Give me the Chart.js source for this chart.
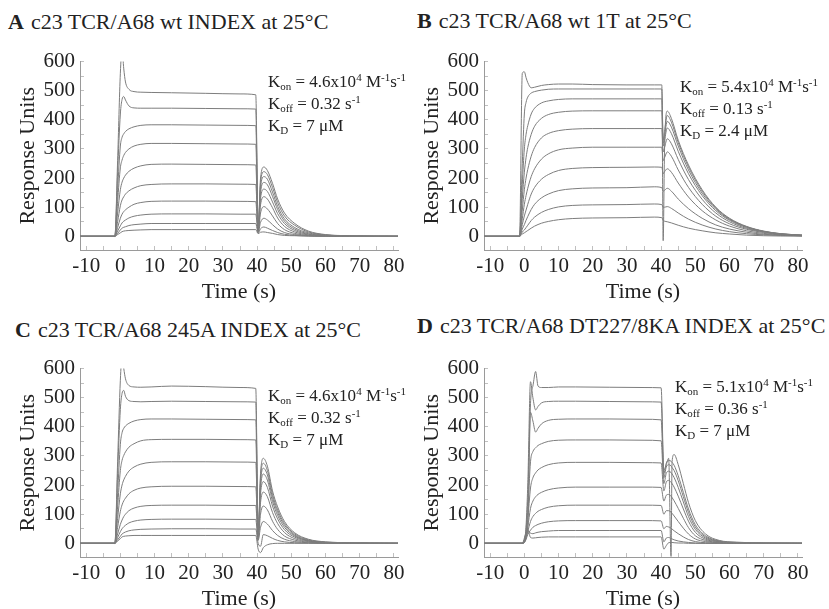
<!DOCTYPE html>
<html>
<head>
<meta charset="utf-8">
<script src="https://cdn.jsdelivr.net/npm/chart.js@4.4.1/dist/chart.umd.min.js"></script>
<style>
  body { margin: 0; background: #fff; width: 829px; height: 609px; position: relative; overflow: hidden;
         font-family: "Liberation Serif", "Times New Roman", serif; color: #222; }
  .panel { position: absolute; width: 415px; height: 270px; }
  .title { position: absolute; font-size: 22px; line-height: 1; white-space: nowrap; }
  .title b { margin-right: 7px; }
  .kin { position: absolute; font-size: 17px; line-height: 22px; white-space: nowrap; }
  sub, sup { font-size: 11px; line-height: 0; }
  sub { vertical-align: -3px; }
  sup { vertical-align: 6px; }
</style>
</head>
<body>
<div class="title" style="left:8px;top:11px"><b>A</b>c23 TCR/A68 wt INDEX at 25°C</div>
<div class="title" style="left:417px;top:10px"><b>B</b>c23 TCR/A68 wt 1T at 25°C</div>
<div class="title" style="left:15px;top:319px"><b>C</b>c23 TCR/A68 245A INDEX at 25°C</div>
<div class="title" style="left:417px;top:315px"><b>D</b>c23 TCR/A68 DT227/8KA INDEX at 25°C</div>

<canvas class="panel" id="chartA" width="415" height="270" style="left:0;top:40px"></canvas>
<canvas class="panel" id="chartB" width="415" height="270" style="left:404px;top:40px"></canvas>
<canvas class="panel" id="chartC" width="415" height="270" style="left:0;top:347px"></canvas>
<canvas class="panel" id="chartD" width="415" height="270" style="left:404px;top:347px"></canvas>

<div class="kin" style="left:268px;top:71px">K<sub>on</sub> = 4.6x10<sup>4</sup> M<sup>-1</sup>s<sup>-1</sup><br>K<sub>off</sub> = 0.32 s<sup>-1</sup><br>K<sub>D</sub> = 7 μM</div>
<div class="kin" style="left:680px;top:76px">K<sub>on</sub> = 5.4x10<sup>4</sup> M<sup>-1</sup>s<sup>-1</sup><br>K<sub>off</sub> = 0.13 s<sup>-1</sup><br>K<sub>D</sub> = 2.4 μM</div>
<div class="kin" style="left:268px;top:385px">K<sub>on</sub> = 4.6x10<sup>4</sup> M<sup>-1</sup>s<sup>-1</sup><br>K<sub>off</sub> = 0.32 s<sup>-1</sup><br>K<sub>D</sub> = 7 μM</div>
<div class="kin" style="left:675px;top:376px">K<sub>on</sub> = 5.1x10<sup>4</sup> M<sup>-1</sup>s<sup>-1</sup><br>K<sub>off</sub> = 0.36 s<sup>-1</sup><br>K<sub>D</sub> = 7 μM</div>

<script>
// axis ticks
const xTicks = [-10, 0, 10, 20, 30, 40, 50, 60, 70, 80];
const xTickMarks = [-10, -5, 0, 5, 10, 15, 20, 25, 30, 35, 40, 45, 50, 55, 60, 65, 70, 75, 80];
const yTicks = [0, 100, 200, 300, 400, 500, 600];
const yTickMarks = [0, 50, 100, 150, 200, 250, 300, 350, 400, 450, 500, 550, 600];

// A: wt INDEX
const timeA = [-11.8, -1.6, -0.8, 0, 0.5, 1, 1.5, 2.5, 4, 6, 9, 15, 25, 35, 39.6, 40.3, 41, 42, 43, 44.5, 46, 48, 51, 55, 60, 67, 81.2];
const respA = [
  [0, 0, 260, 560, 640, 575, 530, 505, 497, 495, 494, 493, 491, 489, 486, 30, 200, 238, 226, 182, 128, 80, 44, 18, 6, 2, 0],
  [0, 0, 220, 420, 470, 480, 468, 448, 441, 440, 440, 440, 439, 438, 437, 26, 185, 222, 212, 168, 116, 70, 38, 15, 5, 1, 0],
  [0, 0, 160, 310, 340, 352, 360, 369, 376, 381, 383, 383, 382, 381, 380, 23, 168, 205, 196, 152, 103, 60, 30, 12, 4, 1, 0],
  [0, 0, 120, 235, 262, 278, 288, 300, 310, 316, 319, 319, 318, 317, 316, 21, 150, 185, 177, 137, 92, 52, 25, 9, 3, 1, 0],
  [0, 0, 80, 160, 186, 200, 210, 223, 234, 242, 247, 248, 247, 246, 245, 19, 130, 162, 154, 118, 78, 44, 20, 7, 2, 1, 0],
  [0, 0, 50, 105, 125, 136, 145, 156, 166, 174, 178, 180, 180, 179, 178, 17, 108, 136, 128, 98, 63, 34, 15, 5, 2, 0, 0],
  [0, 0, 30, 62, 76, 85, 91, 100, 110, 116, 120, 121, 121, 120, 119, 15, 80, 102, 94, 70, 44, 23, 10, 3, 1, 0, 0],
  [0, 0, 18, 36, 46, 52, 56, 63, 69, 73, 76, 77, 77, 76, 76, 13, 48, 62, 56, 40, 25, 13, 6, 2, 1, 0, 0],
  [0, 0, 10, 22, 28, 31, 33, 37, 40, 42, 44, 44, 44, 44, 44, 11, 26, 32, 28, 20, 13, 7, 3, 1, 0, 0, 0],
  [0, 0, 6, 12, 16, 18, 19, 20, 21, 22, 23, 23, 23, 23, 23, 9, 14, 15, 13, 10, 6, 3, 2, 1, 0, 0, 0],
];

// B: wt 1T
const timeB = [-11.8, -1.4, -0.6, 0, 0.5, 1, 2, 3, 5, 7, 10, 14, 20, 30, 38, 40.2, 40.6, 41, 41.8, 43, 45, 48, 52, 56, 60, 65, 70, 75, 81.2];
const respB = [
  [0, 0, 560, 565, 545, 528, 510, 512, 518, 521, 523, 523, 521, 520, 520, 520, -15, 300, 430, 405, 330, 245, 160, 100, 62, 34, 18, 9, 4],
  [0, 0, 250, 420, 460, 478, 492, 497, 502, 505, 506, 506, 506, 506, 506, 506, 330, 360, 415, 392, 322, 238, 155, 97, 60, 33, 17, 9, 4],
  [0, 0, 180, 300, 350, 380, 420, 440, 458, 465, 470, 472, 472, 472, 472, 472, 320, 345, 395, 375, 310, 228, 148, 93, 58, 32, 17, 8, 4],
  [0, 0, 130, 220, 270, 305, 350, 378, 405, 418, 426, 430, 431, 431, 431, 431, 310, 330, 372, 353, 292, 215, 140, 88, 55, 30, 16, 8, 3],
  [0, 0, 90, 160, 200, 230, 275, 305, 338, 353, 363, 368, 370, 370, 370, 370, 290, 305, 335, 318, 264, 195, 127, 80, 50, 27, 15, 7, 3],
  [0, 0, 60, 110, 140, 165, 205, 232, 265, 283, 297, 303, 306, 306, 306, 306, 260, 270, 290, 275, 228, 168, 110, 69, 43, 24, 13, 6, 3],
  [0, 0, 40, 70, 90, 110, 145, 168, 196, 212, 226, 233, 236, 237, 238, 237, 215, 222, 232, 220, 183, 135, 88, 56, 35, 19, 10, 5, 2],
  [0, 0, 25, 40, 55, 68, 92, 110, 132, 145, 157, 163, 166, 167, 170, 167, 155, 158, 165, 155, 128, 95, 62, 39, 25, 14, 7, 4, 2],
  [0, 0, 15, 22, 30, 38, 54, 66, 82, 92, 101, 106, 108, 109, 111, 109, 100, 100, 102, 96, 80, 59, 39, 25, 16, 9, 5, 3, 1],
  [0, 0, 8, 12, 16, 20, 28, 35, 45, 51, 57, 61, 63, 64, 66, 64, 55, 52, 50, 46, 38, 28, 19, 12, 8, 4, 2, 1, 1],
];

// C: 245A INDEX
const timeC = [-11.8, -1.6, -0.8, 0, 0.5, 1, 1.5, 2.5, 4, 6, 9, 15, 25, 35, 39.6, 40.3, 41, 41.8, 43, 44.5, 46, 48, 51, 55, 60, 67, 81.2];
const respC = [
  [0, 0, 280, 560, 640, 600, 565, 542, 537, 536, 537, 540, 538, 535, 532, 40, 240, 292, 265, 180, 125, 75, 36, 14, 5, 2, 0],
  [0, 0, 240, 460, 515, 525, 505, 490, 487, 486, 487, 488, 487, 486, 485, 35, 225, 275, 250, 168, 115, 68, 32, 12, 4, 1, 0],
  [0, 0, 170, 340, 380, 395, 403, 412, 420, 425, 427, 427, 426, 425, 424, 30, 210, 258, 235, 157, 106, 62, 28, 10, 3, 1, 0],
  [0, 0, 125, 250, 285, 302, 314, 330, 342, 352, 356, 357, 357, 356, 355, 26, 190, 238, 217, 144, 96, 55, 25, 9, 3, 1, 0],
  [0, 0, 85, 170, 200, 218, 230, 248, 262, 272, 278, 280, 280, 279, 278, 22, 170, 212, 192, 128, 84, 47, 21, 8, 2, 1, 0],
  [0, 0, 55, 110, 132, 146, 155, 170, 182, 190, 194, 196, 196, 195, 194, 18, 140, 176, 160, 106, 68, 37, 16, 6, 2, 0, 0],
  [0, 0, 32, 65, 80, 92, 100, 112, 121, 127, 130, 131, 131, 130, 130, 14, 100, 128, 115, 76, 48, 25, 11, 4, 1, 0, 0],
  [0, 0, 20, 40, 50, 57, 62, 70, 76, 80, 82, 83, 83, 82, 82, 10, 55, 75, 66, 44, 27, 14, 6, 2, 1, 0, 0],
  [0, 0, 12, 24, 32, 36, 39, 43, 46, 48, 49, 50, 50, 49, 49, 0, -10, 30, 26, 17, 10, 5, 2, 1, 0, 0, 0],
  [0, 0, 8, 16, 22, 24, 25, 26, 27, 27, 27, 27, 27, 27, 27, -20, -32, -15, -5, -1, 0, 0, 0, 0, 0, 0, 0],
];

// D: DT227/8KA INDEX
const timeD = [-11.8, -0.6, 0.3, 1, 1.8, 2.5, 3.3, 4, 5, 7, 10, 15, 25, 35, 40, 40.8, 41.5, 42.2, 42.9, 43.2, 43.8, 45, 46.5, 48, 50, 53, 57, 62, 70, 81.2];
const respD = [
  [0, 0, 20, 60, 480, 540, 590, 540, 535, 535, 537, 537, 536, 535, 534, 250, 270, 292, -45, 280, 305, 270, 205, 140, 78, 32, 10, 4, 1, 0],
  [0, 0, 30, 200, 555, 500, 458, 470, 482, 487, 488, 488, 487, 486, 485, 240, 275, 285, 282, 278, 268, 232, 175, 118, 64, 26, 8, 3, 1, 0],
  [0, 0, 25, 150, 450, 420, 382, 395, 410, 422, 426, 427, 427, 426, 424, 225, 262, 270, 266, 260, 250, 215, 160, 106, 56, 22, 7, 2, 1, 0],
  [0, 0, 20, 110, 280, 315, 328, 336, 342, 350, 354, 355, 355, 354, 352, 205, 240, 248, 243, 238, 226, 192, 142, 92, 48, 18, 6, 2, 0, 0],
  [0, 0, 15, 80, 190, 225, 242, 252, 260, 270, 276, 278, 278, 277, 276, 180, 210, 216, 210, 205, 193, 162, 118, 76, 38, 14, 5, 2, 0, 0],
  [0, 0, 12, 55, 120, 145, 160, 168, 175, 184, 190, 193, 193, 193, 192, 145, 165, 168, 162, 157, 146, 120, 86, 54, 26, 10, 3, 1, 0, 0],
  [0, 0, 10, 40, 75, 92, 103, 110, 116, 124, 129, 131, 131, 131, 130, 100, 112, 112, 107, 103, 94, 75, 52, 32, 15, 6, 2, 1, 0, 0],
  [0, 0, 8, 30, 45, 55, 61, 65, 69, 74, 77, 78, 78, 78, 77, 50, 58, 56, 52, 49, 43, 33, 22, 13, 6, 2, 1, 0, 0, 0],
  [0, 0, 20, 42, 35, 33, 36, 38, 40, 42, 44, 44, 44, 44, 44, 5, 18, 20, 17, 15, 12, 8, 5, 3, 1, 0, 0, 0, 0, 0],
  [0, 0, 30, 48, 20, 18, 19, 20, 21, 22, 22, 22, 22, 22, 22, -20, -8, 2, 3, 3, 2, 1, 1, 0, 0, 0, 0, 0, 0, 0],
];

const serif = "'Liberation Serif', 'Times New Roman', serif";
const ink = "#222";

function drawPanel(id, times, curves) {
  new Chart(document.getElementById(id), {
    type: "line",
    data: {
      datasets: curves.map((c) => ({
        data: times.map((t, i) => ({ x: t, y: c[i] })),
        borderColor: "#7d7d7d",
        borderWidth: 1,
        pointRadius: 0,
        cubicInterpolationMode: "monotone",
      })),
    },
    options: {
      responsive: false,
      animation: false,
      devicePixelRatio: 1,
      layout: { padding: { top: 16, right: 17, left: 0, bottom: 0 } },
      plugins: { legend: { display: false }, tooltip: { enabled: false } },
      scales: {
        x: {
          type: "linear",
          min: -11.8,
          max: 81.2,
          afterBuildTicks: (s) => { s.ticks = xTickMarks.map((v) => ({ value: v })); },
          afterFit: (s) => { s.height = 60; },
          ticks: {
            autoSkip: false, maxRotation: 0, padding: 8,
            font: { family: serif, size: 21 }, color: ink,
            callback: (v) => (xTicks.includes(v) ? String(v) : ""),
          },
          grid: { drawOnChartArea: false, drawTicks: true, tickLength: -4, color: "#c0c0c0" },
          border: { color: "#9a9a9a", width: 1 },
          title: { display: true, text: "Time (s)", color: ink, font: { family: serif, size: 22 }, padding: { top: 0, bottom: 5 } },
        },
        y: {
          min: -47,
          max: 600,
          afterBuildTicks: (s) => { s.ticks = yTickMarks.map((v) => ({ value: v })); },
          afterFit: (s) => { s.width = 80; },
          ticks: {
            autoSkip: false, padding: 9,
            font: { family: serif, size: 21 }, color: ink,
            callback: (v) => (yTicks.includes(v) ? String(v) : ""),
          },
          grid: { drawOnChartArea: false, drawTicks: true, tickLength: -4, color: "#c0c0c0" },
          border: { color: "#9a9a9a", width: 1 },
          title: { display: true, text: "Response Units", color: ink, font: { family: serif, size: 22 }, padding: { top: 15, bottom: 0 } },
        },
      },
    },
  });
}

drawPanel("chartA", timeA, respA);
drawPanel("chartB", timeB, respB);
drawPanel("chartC", timeC, respC);
drawPanel("chartD", timeD, respD);
</script>
</body>
</html>
